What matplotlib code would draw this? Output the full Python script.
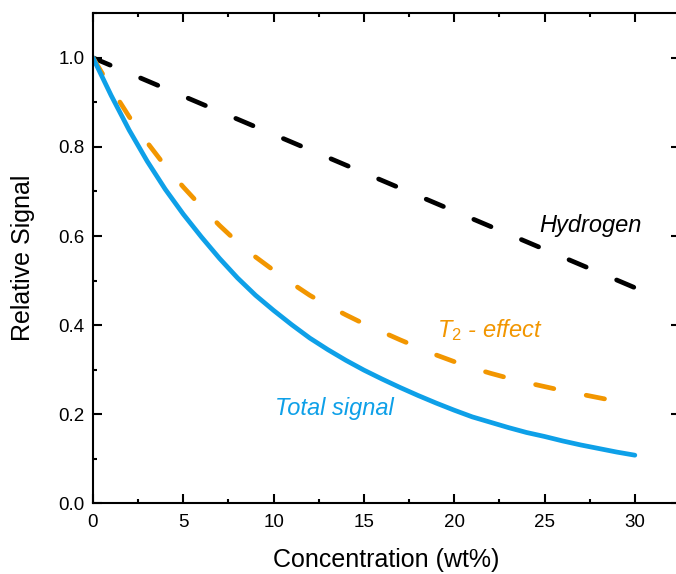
import matplotlib
matplotlib.use("Agg")
import matplotlib.pyplot as plt
from matplotlib.ticker import MultipleLocator, FormatStrFormatter

plt.rcParams['font.family'] = ['Liberation Sans', 'DejaVu Sans']
plt.rcParams['mathtext.fontset'] = 'custom'
plt.rcParams['mathtext.it'] = 'Liberation Sans:italic'
plt.rcParams['mathtext.rm'] = 'Liberation Sans'

# concentration (wt%)
conc = list(range(0, 31))
# total signal (solid blue)
total = [1.000, 0.916, 0.838, 0.768, 0.705, 0.649, 0.598, 0.550, 0.506, 0.467, 0.433,
         0.401, 0.371, 0.345, 0.321, 0.299, 0.279, 0.260, 0.242, 0.225, 0.209,
         0.194, 0.182, 0.170, 0.159, 0.150, 0.140, 0.131, 0.123, 0.115, 0.108]
# T2 effect (dashed orange)
t2 = [1.000, 0.932, 0.868, 0.810, 0.757, 0.710, 0.666, 0.624, 0.586, 0.553, 0.523,
      0.494, 0.467, 0.444, 0.423, 0.403, 0.385, 0.367, 0.350, 0.333, 0.318,
      0.304, 0.292, 0.281, 0.271, 0.262, 0.253, 0.245, 0.237, 0.229, 0.222]
# hydrogen (dashed black)
h_conc = [0, 30]
hydrogen = [1.0, 0.484]

blue = '#0EA0E8'
orange = '#F29600'

fig = plt.figure(figsize=(6.76, 5.74), dpi=100)
ax = fig.add_axes([93 / 676, 1 - 503.3 / 574, 587 / 676, 490 / 574])

lw = 3.4
dash = (3.95, 7.0)
ax.plot(h_conc, hydrogen, color='black', lw=lw, dashes=dash, dash_capstyle='round')
ax.plot(conc, t2, color=orange, lw=lw, dashes=dash, dash_capstyle='round')
ax.plot(conc, total, color=blue, lw=lw, solid_capstyle='round', solid_joinstyle='round')

ax.text(24.7, 0.609, 'Hydrogen', color='black', fontsize=17, style='italic', va='baseline')
ax.text(19.04, 0.373, r'$T_{2}$ - effect', color=orange, fontsize=17, style='italic', va='baseline')
ax.text(10.07, 0.198, 'Total signal', color=blue, fontsize=17, style='italic', va='baseline')

ax.set_xlim(0, 32.5)
ax.set_ylim(0, 1.1)
ax.xaxis.set_major_locator(MultipleLocator(5))
ax.xaxis.set_minor_locator(MultipleLocator(2.5))
ax.yaxis.set_major_locator(MultipleLocator(0.2))
ax.yaxis.set_minor_locator(MultipleLocator(0.1))
ax.yaxis.set_major_formatter(FormatStrFormatter('%.1f'))

ax.tick_params(which='both', direction='in', top=True, right=True, width=1.5, labelsize=13.5)
ax.tick_params(which='major', length=6.5)
ax.tick_params(which='minor', length=3.2)
ax.tick_params(axis='x', pad=8)
ax.tick_params(axis='y', pad=6)
for s in ax.spines.values():
    s.set_linewidth(1.5)

ax.set_xlabel('Concentration (wt%)', fontsize=18, labelpad=12)
ax.set_ylabel('Relative Signal', fontsize=18, labelpad=17)

fig.savefig('out.png', dpi=100)
